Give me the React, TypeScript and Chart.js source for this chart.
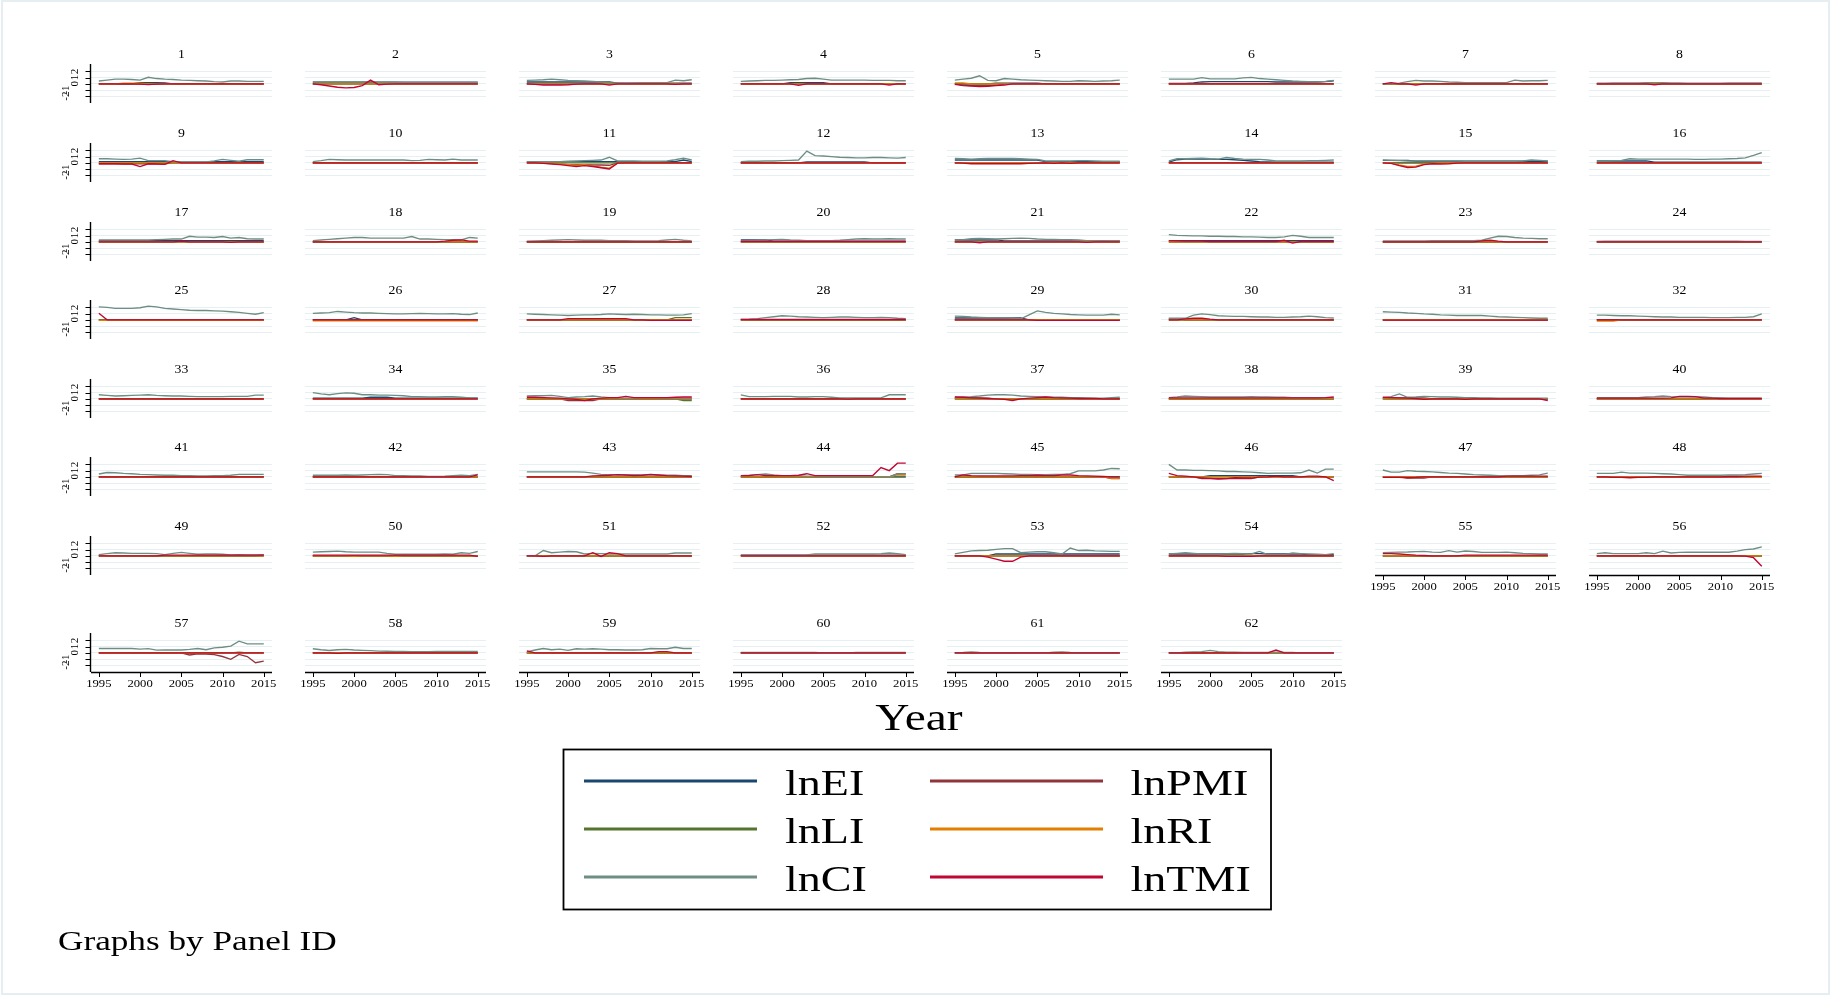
import React, { useEffect, useRef } from "react";
import { Chart, registerables } from "chart.js";
Chart.register(...registerables);

// ---------------- data ----------------
const years = [1995,1996,1997,1998,1999,2000,2001,2002,2003,2004,2005,2006,2007,2008,2009,2010,2011,2012,2013,2014,2015];
const xTickYears = [1995, 2000, 2005, 2010, 2015];
const yTickValues = [-2, -1, 0, 1, 2];
const seriesNames = ["lnEI", "lnPMI", "lnLI", "lnRI", "lnCI", "lnTMI"];
const seriesColors = ["#1a476f", "#90353b", "#55752f", "#e37e00", "#6e8e84", "#c10534"];
const panelIds = Array.from({ length: 62 }, (_, i) => String(i + 1));

const FLAT = [0,0,0,0,0,0,0,0,0,0,0,0,0,0,0,0,0,0,0,0,0];

const lnEI: number[][] = [
  [0,0,0,0,0,0.2,0.2,0.2,0.15,0,0,0,0,0,0,0,0,0,0,0,0], // 1
  [0.27,0.27,0.27,0.27,0.27,0.27,0.27,0.27,0.27,0.27,0.27,0.27,0.27,0.27,0.27,0.27,0.27,0.27,0.27,0.27,0.27], // 2
  [0.3,0.3,0.3,0.3,0.3,0.3,0.3,0.3,0.3,0.3,0.3,0.1,0.1,0.1,0.1,0.1,0.1,0.1,0.1,0.1,0.1], // 3
  [0,0,0,0,0,0,0.2,0.2,0.2,0.2,0.2,0,0,0,0,0,0,0,0,0,0], // 4
  [0,0,0,0,0,0.1,0.1,0.1,0.1,0.1,0.1,0,0,0,0,0,0,0,0,0,0], // 5
  [0.05,0.05,0.05,0.15,0.3,0.35,0.35,0.35,0.35,0.35,0.35,0.35,0.35,0.3,0.3,0.3,0.3,0.3,0.3,0.35,0.5], // 6
  FLAT, // 7
  FLAT, // 8
  [0.2,0.2,0.2,0.2,0.2,0.2,0.2,0.2,0.2,0.1,0.1,0.1,0.1,0.1,0.2,0.2,0.2,0.2,0.2,0.2,0.2], // 9
  FLAT, // 10
  [0.2,0.2,0.2,0.2,0.2,0.2,0.2,0.2,0.2,0.2,0.2,0.2,0.2,0.2,0.2,0.2,0.2,0.2,0.2,0.45,0.2], // 11
  [0,0,0,0,0,0,0,0,0.15,0.15,0.15,0.15,0.15,0.15,0.15,0.15,0,0,0,0,0], // 12
  [0.45,0.45,0.45,0.45,0.45,0.45,0.45,0.45,0.45,0.45,0.45,0.2,0.2,0.2,0.2,0.2,0.2,0.2,0.2,0.2,0.2], // 13
  [0.1,0.5,0.6,0.6,0.65,0.6,0.55,0.55,0.5,0.4,0.3,0.2,0.15,0.1,0.1,0.1,0.1,0.1,0.1,0.1,0.1], // 14
  [0.4,0.4,0.4,0.4,0.25,0.25,0.25,0.25,0.25,0.25,0.25,0.25,0.25,0.25,0.25,0.25,0.25,0.25,0.25,0.25,0.25], // 15
  [0.3,0.3,0.3,0.3,0.3,0.3,0.3,0.1,0.1,0.1,0.1,0.1,0.1,0.1,0.1,0.1,0.1,0.1,0.1,0.1,0.1], // 16
  [0.2,0.2,0.2,0.2,0.2,0.2,0.2,0.2,0.2,0.2,0.2,0.2,0.2,0.2,0.2,0.2,0.2,0.2,0.2,0.2,0.2], // 17
  FLAT, // 18
  FLAT, // 19
  [0.3,0.3,0.3,0.3,0.1,0.1,0.1,0.1,0.1,0.1,0.1,0.1,0.1,0.1,0.1,0.1,0.1,0.1,0.1,0.1,0.1], // 20
  [0.3,0.3,0.3,0.3,0.3,0.3,0.15,0.15,0.15,0.15,0.15,0.15,0.15,0.15,0.15,0.15,0.15,0.15,0.15,0.15,0.15], // 21
  [0.2,0.2,0.2,0.2,0.2,0.2,0.2,0.2,0.2,0.2,0.2,0.2,0.2,0.2,0.2,0.2,0.2,0.2,0.2,0.2,0.2], // 22
  FLAT, // 23
  FLAT, // 24
  FLAT, // 25
  [0,0,0,0,0,0.35,0,0,0,0,0,0,0,0,0,0,0,0,0,0,0], // 26
  FLAT, // 27
  FLAT, // 28
  [0.3,0.3,0.3,0.3,0.3,0.3,0.3,0.3,0.3,0,0,0,0,0,0,0,0,0,0,0,0], // 29
  [0.2,0.2,0,0,0,0,0,0,0,0,0,0,0,0,0,0,0,0,0,0,0], // 30
  FLAT, // 31
  FLAT, // 32
  FLAT, // 33
  [0.1,0.1,0.1,0.1,0.1,0.1,0.1,0.25,0.25,0.25,0.1,0.1,0.1,0.1,0.1,0.1,0.1,0.1,0.1,0.1,0.1], // 34
  FLAT, // 35
  FLAT, // 36
  FLAT, // 37
  FLAT, // 38
  FLAT, // 39
  FLAT, // 40
  FLAT, // 41
  FLAT, // 42
  FLAT, // 43
  FLAT, // 44
  FLAT, // 45
  [0,0,0,0,0,0.2,0.2,0.2,0.2,0.2,0.2,0.2,0.2,0.2,0.2,0.2,0,0,0,0,0], // 46
  FLAT, // 47
  FLAT, // 48
  [0.15,0,0,0,0,0,0,0,0,0,0,0,0,0,0,0,0,0,0,0,0.15], // 49
  FLAT, // 50
  FLAT, // 51
  [0.1,0.1,0.1,0.1,0.1,0.1,0.1,0.1,0.1,0.1,0.1,0.1,0.1,0.1,0.1,0.1,0.1,0.1,0.1,0.1,0.1], // 52
  [0,0,0,0,0,0.3,0.3,0.3,0.3,0.3,0.3,0.3,0.3,0.3,0.3,0.3,0.3,0.3,0.3,0.3,0.3], // 53
  [0.3,0.3,0.3,0.3,0.3,0.3,0.3,0.3,0.3,0.3,0.35,0.35,0.3,0.3,0.3,0.3,0.3,0.2,0.2,0.2,0.2], // 54
  FLAT, // 55
  FLAT, // 56
  FLAT, // 57
  FLAT, // 58
  FLAT, // 59
  FLAT, // 60
  FLAT, // 61
  FLAT, // 62
];

const lnPMI: number[][] = [
  FLAT, FLAT, FLAT, FLAT, // 1-4
  [0,-0.2,-0.3,-0.3,-0.3,-0.2,0,0,0,0,0,0,0,0,0,0,0,0,0,0,0], // 5
  FLAT, FLAT, FLAT, // 6-8
  [-0.15,-0.15,-0.15,-0.15,-0.15,-0.15,-0.15,-0.15,-0.15,0,0,0,0,0,0,0,0,0,0,0,0], // 9
  FLAT, // 10
  [0,0,0,-0.1,-0.2,-0.3,-0.3,-0.3,-0.35,-0.35,-0.4,0,0,0,0,0,0,0,0,0,0], // 11
  FLAT, FLAT, FLAT, FLAT, FLAT, FLAT, FLAT, FLAT, FLAT, FLAT, FLAT, FLAT, FLAT, FLAT, FLAT, FLAT, FLAT, FLAT, FLAT, FLAT, FLAT, FLAT, FLAT, // 12-34
  [0,0,0,0,0,-0.3,-0.3,-0.3,-0.3,0,0,0,0,0,0,0,0,0,0,0,0], // 35
  FLAT, // 36
  [0.2,0.2,0.2,0.15,0.1,0,0,0,0,0,0,0,0,0,0,0,0,0,0,0,0], // 37
  FLAT, // 38
  [0.15,0.15,0.15,0.15,0.15,0.15,0,0,0,0,0,0,0,0,0,0,0,0,0,0,0], // 39
  FLAT, FLAT, FLAT, FLAT, // 40-43
  [0,0,0,0,0,0,0,0,0,0,0,0,0,0,0,0,0,0,0,0.5,0.5], // 44
  [0,0,0,0,0,0,0,0,0,0,0,0,0,0,0,0,0,0,0,-0.3,-0.3], // 45
  [0,0,0,0,-0.3,-0.3,-0.3,-0.3,-0.3,-0.3,-0.3,0,0,0,0,0,0,0,0,0,0], // 46
  [0,0,0,-0.2,-0.2,-0.2,0,0,0,0,0,0,0,0,0,0,0,0,0,0,0], // 47
  FLAT, FLAT, FLAT, FLAT, FLAT, FLAT, FLAT, // 48-54
  [0,0,0,0,-0.1,-0.1,-0.1,0,0,0,0,0,0,0,0,0,0,0,0,0,0], // 55
  FLAT, // 56
  [0,0,0,0,0,0,0,0,0,0,0,-0.35,-0.15,-0.2,-0.3,-0.6,-1.05,-0.25,-0.6,-1.6,-1.35], // 57
  FLAT, FLAT, FLAT, // 58-60
  [0,0,0,0,0,0,-0.1,-0.1,0,0,0,0,0,0,0,0,0,0,0,0,0], // 61
  [0,0,-0.1,-0.1,-0.1,0,0,0,0,0,0,0,0,0,0,0,0,0,0,0,0], // 62
];

const lnLI: number[][] = [
  FLAT, FLAT, FLAT, FLAT, FLAT, FLAT, FLAT, FLAT, FLAT, FLAT, // 1-10
  FLAT, FLAT, FLAT, FLAT, FLAT, FLAT, FLAT, FLAT, FLAT, FLAT, // 11-20
  FLAT, FLAT, FLAT, FLAT, FLAT, FLAT, // 21-26
  [0,0,0,0,0,0,0,0,0,0,0,0,0,0,0,0,0,0,0.35,0.35,0.35], // 27
  FLAT, FLAT, FLAT, FLAT, FLAT, FLAT, FLAT, // 28-34
  [0,0,0,0,0,0,0,0,0,0,0,0,0,0,0,0,0,0,0,-0.3,-0.3], // 35
  FLAT, FLAT, FLAT, FLAT, FLAT, FLAT, FLAT, FLAT, // 36-43
  [0,0,0,0,0,0,0,0,0,0,-0.05,-0.05,-0.05,-0.05,-0.05,-0.05,-0.05,-0.05,0,0,0], // 44
  FLAT, FLAT, FLAT, FLAT, FLAT, FLAT, FLAT, FLAT, FLAT, FLAT, FLAT, FLAT, // 45-56
  [0,0,0,0,0,0,0,0,0,0,0,0,0,0,0,0,0,0.1,0,0,0], // 57
  FLAT, FLAT, FLAT, FLAT, FLAT, // 58-62
];

const lnRI: number[][] = [
  [0,0,0,0.1,0.1,0.1,0,0,0,0,0,0,0,0,0,0,0,0,0,0,0], // 1
  FLAT, FLAT, FLAT, // 2-4
  [0.15,0.15,0,0,0,0,0,0,0,0,0,0,0,0,0,0,0,0,0,0,0], // 5
  FLAT, FLAT, FLAT, FLAT, FLAT, // 6-10
  [0,0,0,-0.1,-0.2,-0.3,-0.4,-0.3,-0.5,-0.7,-0.85,-0.05,0,0,0,0,0,0,0,0,0], // 11
  FLAT, FLAT, FLAT, // 12-14
  [0,-0.05,-0.35,-0.6,-0.55,-0.2,-0.1,0,0,0,0,0,0,0,0,0,0,0,0,0,0], // 15
  FLAT, FLAT, FLAT, FLAT, FLAT, FLAT, FLAT, FLAT, FLAT, // 16-24
  [-0.1,-0.1,-0.1,-0.1,-0.1,-0.1,-0.1,-0.1,-0.1,-0.1,-0.1,-0.1,-0.1,-0.1,-0.1,-0.1,-0.1,-0.1,-0.1,-0.1,-0.1], // 25
  [-0.15,-0.15,-0.15,-0.15,-0.15,-0.15,-0.15,-0.15,-0.15,-0.15,-0.15,-0.15,-0.15,-0.15,-0.15,-0.15,-0.15,-0.15,-0.15,-0.15,-0.15], // 26
  FLAT, FLAT, FLAT, FLAT, FLAT, // 27-31
  [-0.2,-0.2,-0.2,0,0,0,0,0,0,0,0,0,0,0,0,0,0,0,0,0,0], // 32
  FLAT, FLAT, FLAT, FLAT, FLAT, FLAT, FLAT, FLAT, FLAT, FLAT, FLAT, // 33-43
  [0,0,0,0,0,0,0,0,0,0,0,0,0,0,0,0,0,0,0,0.3,0.3], // 44
  [0,0,0,0,0,0,0,0,0,0,0,0,0,0,0,0,0,0,0,-0.25,-0.25], // 45
  FLAT, FLAT, // 46-47
  [0,0,0,0,0,0,0,0,0,0,0,0,0,0,0,0,0,0,0,-0.1,-0.1], // 48
  FLAT, // 49
  [0,0,0,0,0,-0.1,0,0,0,0,-0.1,0,0,0,0,0,0,0,0,0,0], // 50
  FLAT, FLAT, FLAT, FLAT, FLAT, FLAT, FLAT, FLAT, FLAT, FLAT, FLAT, FLAT, // 51-62
];

const lnCI: number[][] = [
  [0.45,0.6,0.75,0.75,0.7,0.6,1.05,0.85,0.75,0.7,0.6,0.55,0.5,0.45,0.35,0.3,0.45,0.45,0.4,0.4,0.4], // 1
  [0.3,0.3,0.3,0.3,0.3,0.3,0.3,0.35,0.25,0.25,0.25,0.2,0.2,0.2,0.2,0.2,0.2,0.2,0.2,0.2,0.2], // 2
  [0.55,0.6,0.65,0.75,0.65,0.55,0.5,0.45,0.4,0.3,0.2,0.15,0.1,0.15,0.2,0.2,0.2,0.2,0.6,0.5,0.65], // 3
  [0.4,0.45,0.5,0.55,0.55,0.6,0.65,0.7,0.85,0.9,0.75,0.6,0.6,0.6,0.6,0.6,0.55,0.55,0.55,0.5,0.5], // 4
  [0.6,0.75,0.9,1.3,0.55,0.5,0.85,0.75,0.65,0.6,0.55,0.5,0.45,0.4,0.4,0.5,0.45,0.4,0.45,0.5,0.6], // 5
  [0.75,0.75,0.75,0.75,1.0,0.8,0.8,0.8,0.8,0.95,1.05,0.85,0.75,0.65,0.55,0.45,0.4,0.35,0.3,0.4,0.55], // 6
  [0,0.05,0.1,0.35,0.55,0.45,0.45,0.4,0.3,0.25,0.2,0.2,0.2,0.2,0.2,0.2,0.6,0.45,0.5,0.5,0.55], // 7
  [0.1,0.1,0.15,0.15,0.15,0.15,0.2,0.2,0.2,0.15,0.15,0.1,0.1,0.1,0.1,0.1,0.15,0.15,0.15,0.15,0.15], // 8
  [0.65,0.65,0.6,0.55,0.6,0.75,0.35,0.35,0.35,0.2,0.15,0.15,0.15,0.15,0.3,0.55,0.4,0.25,0.5,0.5,0.5], // 9
  [0.2,0.35,0.55,0.5,0.45,0.45,0.45,0.45,0.45,0.45,0.45,0.45,0.35,0.4,0.55,0.5,0.45,0.6,0.45,0.45,0.45], // 10
  [0.2,0.2,0.2,0.2,0.2,0.25,0.3,0.35,0.4,0.45,0.9,0.3,0.3,0.3,0.25,0.25,0.25,0.3,0.5,0.75,0.45], // 11
  [0.2,0.25,0.25,0.3,0.3,0.35,0.4,0.45,1.9,1.15,1.1,1.0,0.9,0.85,0.8,0.8,0.85,0.85,0.8,0.75,0.85], // 12
  [0.7,0.65,0.6,0.65,0.7,0.7,0.7,0.7,0.65,0.6,0.55,0.3,0.3,0.3,0.3,0.35,0.35,0.3,0.25,0.25,0.25], // 13
  [0.3,0.65,0.65,0.7,0.75,0.65,0.6,0.85,0.7,0.6,0.55,0.55,0.45,0.3,0.3,0.3,0.3,0.35,0.35,0.4,0.45], // 14
  [0.45,0.4,0.35,0.3,0.3,0.3,0.3,0.3,0.3,0.3,0.25,0.25,0.25,0.25,0.25,0.25,0.25,0.3,0.45,0.4,0.3], // 15
  [0.3,0.3,0.35,0.4,0.65,0.6,0.6,0.6,0.6,0.6,0.6,0.6,0.55,0.55,0.6,0.6,0.65,0.7,0.8,1.2,1.65], // 16
  [0.3,0.3,0.3,0.3,0.3,0.3,0.3,0.35,0.4,0.45,0.45,0.9,0.75,0.75,0.7,0.85,0.6,0.7,0.5,0.45,0.45], // 17
  [0.2,0.3,0.4,0.5,0.6,0.7,0.7,0.6,0.6,0.6,0.6,0.6,0.85,0.45,0.45,0.4,0.35,0.35,0.3,0.7,0.6], // 18
  [0.1,0.15,0.2,0.25,0.3,0.35,0.3,0.25,0.25,0.25,0.2,0.2,0.2,0.15,0.15,0.15,0.2,0.3,0.4,0.25,0.15], // 19
  [0.15,0.2,0.25,0.3,0.35,0.4,0.3,0.25,0.2,0.2,0.2,0.2,0.25,0.35,0.45,0.5,0.45,0.45,0.5,0.45,0.45], // 20
  [0.3,0.35,0.5,0.55,0.5,0.45,0.5,0.55,0.6,0.55,0.45,0.4,0.4,0.35,0.35,0.3,0.2,0.2,0.15,0.2,0.2], // 21
  [1.15,1.05,1.0,0.95,0.95,0.9,0.9,0.85,0.85,0.8,0.8,0.75,0.7,0.7,0.8,1.05,0.9,0.7,0.7,0.7,0.7], // 22
  [0.15,0.15,0.15,0.15,0.15,0.15,0.2,0.2,0.2,0.2,0.2,0.2,0.25,0.6,0.9,0.85,0.7,0.6,0.55,0.5,0.5], // 23
  [0.05,0.1,0.1,0.1,0.1,0.1,0.1,0.1,0.1,0.1,0.1,0.1,0.1,0.1,0.1,0.1,0.1,0.1,0.05,0.05,0.05], // 24
  [2.1,2.0,1.85,1.85,1.85,1.95,2.2,2.1,1.85,1.75,1.65,1.55,1.5,1.5,1.45,1.4,1.3,1.2,1.05,0.9,1.15], // 25
  [1.05,1.1,1.15,1.35,1.25,1.15,1.1,1.1,1.05,1.0,0.95,0.95,1.0,1.05,1.0,0.95,0.95,1.0,0.9,0.85,1.1], // 26
  [0.95,0.9,0.85,0.8,0.75,0.7,0.75,0.8,0.8,0.85,0.95,0.9,0.85,0.9,0.85,0.8,0.8,0.75,0.75,0.8,1.0], // 27
  [0.05,0.1,0.2,0.35,0.5,0.65,0.6,0.5,0.45,0.4,0.35,0.4,0.45,0.45,0.4,0.35,0.35,0.4,0.35,0.25,0.2], // 28
  [0.6,0.55,0.45,0.4,0.35,0.35,0.35,0.3,0.15,0.8,1.45,1.2,1.05,0.95,0.85,0.8,0.75,0.75,0.75,0.9,0.8], // 29
  [0.25,0.25,0.25,0.75,0.95,0.85,0.65,0.6,0.55,0.55,0.5,0.45,0.45,0.4,0.4,0.45,0.5,0.6,0.5,0.35,0.3], // 30
  [1.3,1.25,1.2,1.1,1.05,0.95,0.9,0.8,0.75,0.7,0.7,0.7,0.7,0.6,0.5,0.45,0.4,0.35,0.3,0.25,0.25], // 31
  [0.75,0.75,0.7,0.65,0.65,0.6,0.55,0.5,0.45,0.45,0.4,0.4,0.4,0.4,0.35,0.35,0.35,0.4,0.4,0.5,0.95], // 32
  [0.65,0.55,0.45,0.5,0.55,0.6,0.65,0.55,0.5,0.45,0.45,0.4,0.35,0.35,0.35,0.35,0.4,0.4,0.4,0.6,0.6], // 33
  [1.0,0.8,0.65,0.85,0.95,0.9,0.65,0.65,0.6,0.6,0.55,0.5,0.35,0.35,0.3,0.3,0.35,0.35,0.25,0.15,0.1], // 34
  [0.45,0.5,0.5,0.55,0.4,0.2,0.3,0.35,0.45,0.3,0.2,0.15,0.1,0.1,0.2,0.2,0.15,0.1,0.1,0.1,0.1], // 35
  [0.65,0.35,0.35,0.35,0.4,0.4,0.4,0.3,0.3,0.35,0.35,0.25,0.15,0.15,0.15,0.15,0.15,0.15,0.65,0.65,0.65], // 36
  [0.25,0.3,0.35,0.45,0.6,0.65,0.65,0.6,0.45,0.4,0.35,0.3,0.25,0.25,0.2,0.2,0.15,0.1,0.1,0.2,0.25], // 37
  [0.2,0.3,0.45,0.4,0.35,0.3,0.3,0.3,0.3,0.3,0.35,0.3,0.3,0.25,0.25,0.2,0.2,0.2,0.2,0.2,0.2], // 38
  [0.2,0.35,0.8,0.25,0.3,0.4,0.35,0.3,0.3,0.25,0.2,0.2,0.15,0.15,0.1,0.1,0.1,0.1,0.1,0.1,0.1], // 39
  [0.2,0.2,0.2,0.2,0.2,0.2,0.3,0.35,0.45,0.35,0.3,0.3,0.3,0.3,0.2,0.15,0.1,0.1,0.1,0.1,0.1], // 40
  [0.45,0.7,0.65,0.55,0.5,0.4,0.35,0.3,0.25,0.25,0.2,0.2,0.15,0.15,0.2,0.2,0.25,0.4,0.4,0.4,0.4], // 41
  [0.25,0.25,0.25,0.25,0.3,0.25,0.3,0.35,0.4,0.35,0.2,0.2,0.15,0.15,0.05,0.05,0.1,0.2,0.25,0.2,0.4], // 42
  [0.8,0.8,0.8,0.8,0.8,0.8,0.8,0.75,0.6,0.4,0.35,0.3,0.3,0.35,0.3,0.3,0.25,0.25,0.25,0.2,0.2], // 43
  [0.2,0.25,0.35,0.45,0.3,0.2,0.2,0.15,0.1,0.1,0.05,0.05,0,0,0,0,0,0,0,0.45,0.5], // 44
  [0.3,0.3,0.55,0.55,0.55,0.55,0.5,0.45,0.4,0.4,0.35,0.35,0.4,0.4,0.5,0.95,0.95,0.95,1.1,1.35,1.3], // 45
  [2.0,1.1,1.1,1.05,1.05,1.0,0.95,0.85,0.85,0.8,0.75,0.65,0.55,0.6,0.6,0.6,0.65,1.1,0.6,1.25,1.25], // 46
  [1.1,0.75,0.75,1.0,0.9,0.85,0.8,0.7,0.6,0.55,0.45,0.35,0.3,0.25,0.2,0.15,0.2,0.2,0.25,0.3,0.6], // 47
  [0.55,0.55,0.55,0.75,0.6,0.6,0.6,0.55,0.5,0.45,0.35,0.25,0.25,0.25,0.25,0.25,0.3,0.3,0.35,0.45,0.55], // 48
  [0.2,0.35,0.5,0.45,0.4,0.4,0.4,0.35,0.2,0.4,0.55,0.4,0.25,0.3,0.3,0.25,0.15,0.2,0.15,0.15,0.2], // 49
  [0.6,0.65,0.7,0.75,0.65,0.6,0.6,0.6,0.6,0.4,0.25,0.25,0.25,0.25,0.25,0.25,0.3,0.25,0.5,0.4,0.7], // 50
  [0,0,0.85,0.5,0.6,0.7,0.65,0.3,0.4,0.35,0.3,0.3,0.3,0.3,0.3,0.3,0.3,0.3,0.45,0.45,0.45], // 51
  [0.1,0.1,0.1,0.1,0.1,0.1,0.1,0.1,0.15,0.3,0.3,0.3,0.3,0.3,0.3,0.3,0.3,0.35,0.45,0.35,0.2], // 52
  [0.3,0.55,0.8,0.85,0.9,1.05,1.15,1.15,0.5,0.6,0.65,0.65,0.5,0.3,1.25,0.85,0.9,0.8,0.75,0.72,0.72], // 53
  [0.3,0.4,0.5,0.4,0.3,0.3,0.3,0.35,0.4,0.35,0.3,0.7,0.2,0.2,0.2,0.45,0.35,0.3,0.25,0.2,0.35], // 54
  [0.5,0.55,0.6,0.62,0.68,0.72,0.6,0.55,0.83,0.6,0.78,0.7,0.55,0.55,0.55,0.6,0.5,0.4,0.35,0.3,0.3], // 55
  [0.35,0.5,0.35,0.35,0.35,0.35,0.5,0.35,0.75,0.45,0.55,0.57,0.57,0.57,0.57,0.57,0.57,0.75,1.0,1.1,1.43], // 56
  [0.7,0.7,0.7,0.7,0.7,0.6,0.68,0.43,0.45,0.45,0.45,0.55,0.7,0.5,0.8,0.9,1.07,1.88,1.45,1.45,1.45], // 57
  [0.65,0.5,0.38,0.5,0.55,0.45,0.4,0.35,0.27,0.25,0.22,0.22,0.2,0.2,0.2,0.22,0.22,0.22,0.22,0.22,0.22], // 58
  [0.15,0.45,0.7,0.5,0.6,0.4,0.65,0.6,0.65,0.6,0.5,0.5,0.45,0.45,0.5,0.7,0.65,0.65,0.9,0.7,0.7], // 59
  [0.05,0.05,0.05,0.05,0.05,0.05,0.05,0.05,0.05,0.05,0,0,0,0,0.05,0.05,0.05,0.05,0.05,0.05,0.05], // 60
  [0,0.05,0.15,0.05,0,0,0,0,0,0,0,0,0.1,0.15,0.05,0,0,0,0,0,0], // 61
  [0,0,0.1,0.15,0.2,0.4,0.2,0.1,0.1,0.05,0.05,0.05,0.05,0.1,0.05,0.05,0,0,0,0,0], // 62
];

const lnTMI: number[][] = [
  [0,0,0,0,0,-0.05,-0.12,-0.05,0,0,0,0,0,0,0,0,0,0,0,0,0], // 1
  [0,-0.15,-0.35,-0.55,-0.65,-0.6,-0.3,0.6,-0.15,-0.05,0,0,0,0,0,0,0,0,0,0,0], // 2
  [0,-0.1,-0.2,-0.2,-0.2,-0.15,-0.05,0,0,0,-0.2,0,0,0,0,0,0,0,-0.1,0,0], // 3
  [0,0,0,0,0,0,0,-0.25,0,0,0,0,0,0,0,0,0,0,-0.2,0,0], // 4
  [-0.1,-0.3,-0.35,-0.45,-0.4,-0.3,-0.2,0,0,0,0,0,0,0,0,0,0,0,0,0,0], // 5
  FLAT, // 6
  [0,0.2,0,0,-0.2,0,0,0,0,0,0,0,0,0,0,0,0,0,0,0,0], // 7
  [0,0,0,0,0,0,0,-0.15,0,0,0,0,0,0,0,0,0,0,0,0,0], // 8
  [-0.15,-0.15,-0.15,-0.2,-0.2,-0.6,-0.15,-0.2,-0.25,0.35,0,0,0,0,0,0,0,0,0,0,0], // 9
  FLAT, // 10
  [0,0,-0.1,-0.2,-0.3,-0.45,-0.6,-0.45,-0.6,-0.8,-1.0,-0.05,0,0,0,0,0,0,0,0,0], // 11
  FLAT, // 12
  [0,-0.05,-0.15,-0.15,-0.15,-0.15,-0.15,-0.15,-0.15,-0.1,-0.05,0,-0.1,0,-0.1,0,0,0,0,0,0], // 13
  FLAT, // 14
  [0,-0.1,-0.45,-0.75,-0.7,-0.3,-0.15,-0.2,-0.15,-0.05,0,0,0,0,0,0,0,0,0,0,0], // 15
  FLAT, // 16
  [0,0,0,0,0,0,0,0,0,0,0.1,0,0,0,0,0,-0.1,0,0,0,0], // 17
  [0,0,0,0,0,0,0,0,0,0,0,0,0,0,0,0,0.1,0.25,0.3,0.1,0.1], // 18
  FLAT, // 19
  [0.05,0.05,0.05,0.05,0.05,0.05,0.05,0.05,0.05,0.05,0.05,0.05,0.05,0.05,0.05,0.05,0.05,0.05,0.05,0.05,0.05], // 20
  [0,0,0,-0.15,0,0,0,0,0,0,0,0,0,0,0,0,-0.1,0,0,0,0], // 21
  [0.2,0.15,0.1,0.1,0.1,0.05,0.05,0.05,0.05,0.05,0.05,0.05,0.05,0.05,0.25,-0.2,0.05,0.05,0.05,0.05,0.05], // 22
  [0,0,0,0,0,0,0,0,0,0,0,0,0.15,0.25,0.1,0,0,0,0,0,0], // 23
  FLAT, // 24
  [1.05,0,0,0,0,0,0,0,0,0,0,0,0,0,0,0,0,0,0,0,0], // 25
  FLAT, // 26
  [0,0,0,0,0,0.2,0.2,0.2,0.2,0.2,0.2,0.2,0.2,0,0,-0.1,-0.1,-0.1,-0.1,-0.1,-0.1], // 27
  [0.05,0.05,0.05,0.05,0.05,0.05,0.05,0.05,0.05,0.05,0.05,0.05,0.05,0.05,0.05,0.05,0.05,0.05,0.05,0.05,0.05], // 28
  [0,0,0,0,0,0,0,0,0,0,-0.1,-0.1,-0.1,-0.1,-0.1,-0.1,-0.1,-0.1,-0.1,-0.1,-0.1], // 29
  [0,0,0.15,0.25,0.25,0.1,0,0,0,0,0,0,0,0,0,0,0,0,0,0,0], // 30
  [-0.05,-0.05,-0.05,-0.05,-0.05,-0.05,-0.05,-0.05,-0.05,-0.05,-0.05,-0.05,-0.05,-0.05,-0.05,-0.05,-0.05,-0.05,-0.05,-0.05,-0.05], // 31
  FLAT, // 32
  FLAT, // 33
  FLAT, // 34
  [0.25,0.25,0.2,0.15,0.1,0,-0.1,-0.3,0,0.1,0.2,0.2,0.4,0.2,0.2,0.2,0.2,0.2,0.25,0.3,0.3], // 35
  [0,0,0,0,0,0,0,0,0,0,0,0,0,-0.05,0,0,0,0,0,0,0], // 36
  [0.3,0.25,0.15,0.1,0.05,0,-0.1,-0.27,0,0.1,0.2,0.3,0.2,0.15,0.1,0.05,0.05,0.05,0,0,0], // 37
  [0.15,0.15,0.15,0.15,0.15,0.15,0.15,0.15,0.15,0.15,0.15,0.15,0.15,0.15,0.15,0.15,0.15,0.15,0.15,0.2,0.3], // 38
  [0.25,0.2,0.15,0.1,0.05,-0.1,0,0,0,0,-0.1,0,0,0,0,0,0,0,0,0,-0.27], // 39
  [0.1,0.1,0.1,0.1,0.1,0.1,0.1,0.1,0.1,0.15,0.4,0.4,0.35,0.1,0.1,0.05,0.05,0.05,0.05,0.05,0.05], // 40
  FLAT, // 41
  [0,0,0,0,0,0,0,0,0,0,0,0,0,0,0,0,0,0,0,0,0.3], // 42
  [0,0,0,0,0,0,0,0,0.15,0.2,0.25,0.35,0.3,0.2,0.25,0.4,0.3,0.2,0.15,0.1,0.05], // 43
  [0.2,0.2,0.35,0.2,0.2,0.2,0.2,0.25,0.5,0.2,0.2,0.2,0.2,0.2,0.2,0.2,0.2,1.5,1.0,2.2,2.2], // 44
  [0,0.3,0.2,0.15,0.15,0.15,0.15,0.15,0.2,0.2,0.25,0.2,0.2,0.3,0.3,0.2,0.15,0.1,0.05,0,0], // 45
  [0.57,0.2,0.1,0,-0.2,-0.25,-0.35,-0.3,-0.15,-0.2,-0.2,-0.05,0,0.1,0,0,0,0.1,0.1,0,-0.6], // 46
  [-0.1,-0.1,-0.1,-0.15,-0.1,0,0,0,0,0,0,0,0,0,0,0.1,0.1,0.1,0.1,0.1,0.1], // 47
  [0,0,-0.1,-0.1,-0.15,-0.1,-0.1,0,0,0,0,0,0,0,0,0,0.05,0.05,0.1,0.1,0.1], // 48
  [0,0,0,0,0,0,0,0,0.1,0.1,0.1,0.1,0.1,0.1,0.1,0.1,0.1,0.1,0.1,0.1,0.1], // 49
  [0.1,0.1,0.1,0.1,0.1,0.1,0.1,0.1,0.1,0.1,0.1,0.1,0.1,0.1,0.1,0.1,0.1,0.1,0.1,0.1,-0.1], // 50
  [0,0,-0.1,0,0,0,0,0,0.5,-0.1,0.5,0.35,0,0,0,0,0,0,0,0,0], // 51
  FLAT, // 52
  [0,0,0,0,-0.2,-0.55,-0.88,-0.88,-0.2,0,0,0,0,0,0,0,0,0,0,0,0], // 53
  [0,0,0,0,0,0,0,-0.1,-0.1,-0.1,-0.1,0,0,0,0,0,0,0,0,0,0], // 54
  [0.35,0.35,0.3,0.2,0.1,0.05,0,0,0,0,0.1,0.1,0.1,0.1,0.1,0.1,0.1,0.1,0.1,0.1,0.1], // 55
  [0,0,0,0,0,0,0,0,0,0,0,0,0,0,0,0,0,0,-0.05,-0.3,-1.7], // 56
  FLAT, // 57
  [0,0,0,-0.1,0,0,0,0,0,0,0,0,0,0,0,0,0,0,0,0,0], // 58
  [0.3,0,0,0,0,0,0,0,0,0,0,0,0,0,0,0,0.2,0.2,0,0,0], // 59
  FLAT, // 60
  FLAT, // 61
  [0,0,0,0,0,0,0,0,0,0,0,0,0,0.45,0,0,0,0,0,0,0], // 62
];

const seriesTables = [lnEI, lnPMI, lnLI, lnRI, lnCI, lnTMI];

// ---------------- layout ----------------
const COL0 = 91, COLSTEP = 214;
const ROW0 = 64.3, ROWSTEP = 78.6, LAST_ROW_EXTRA = 18.4;
const PW = 181, PH = 39;
const PADL = 40, PADR = 20, PADT = 22, PADB = 28;
const CW = PADL + PW + PADR, CH = PADT + PH + PADB;
const SERIF = '"Liberation Serif", "Times New Roman", "DejaVu Serif", serif';
const STRETCH = 1.28;

function drawText(ctx: CanvasRenderingContext2D, text: string, x: number, y: number, font: string, sx: number, align: CanvasTextAlign, baseline: CanvasTextBaseline, rot = 0) {
  ctx.save();
  ctx.translate(x, y);
  ctx.scale(sx, 1);
  if (rot) ctx.rotate(rot);
  ctx.font = font;
  ctx.textAlign = align;
  ctx.textBaseline = baseline;
  ctx.fillStyle = "#000";
  ctx.fillText(text, 0, 0);
  ctx.restore();
}

const panelDecor = {
  id: "decor",
  afterDraw(chart: any, _args: any, opts: any) {
    const { ctx, chartArea: a } = chart;
    const x = chart.scales.x, y = chart.scales.y;
    ctx.save();
    drawText(ctx, opts.title, (a.left + a.right) / 2, a.top - 9.3, `11.5px ${SERIF}`, 1.2, "center", "middle");
    ctx.strokeStyle = "#000";
    if (opts.showY) {
      ctx.lineWidth = 1.4;
      ctx.beginPath();
      ctx.moveTo(a.left - 0.5, a.top);
      ctx.lineTo(a.left - 0.5, a.bottom);
      ctx.stroke();
      ctx.lineWidth = 1;
      for (const v of yTickValues) {
        const py = Math.round(y.getPixelForValue(v)) + 0.5;
        ctx.beginPath();
        ctx.moveTo(a.left - 5.5, py);
        ctx.lineTo(a.left, py);
        ctx.stroke();
        const cx = v < 0 ? a.left - 25 : a.left - 16;
        drawText(ctx, String(v), cx, y.getPixelForValue(v), `11px ${SERIF}`, 1.0, "center", "middle", -Math.PI / 2);
      }
    }
    if (opts.showX) {
      ctx.lineWidth = 1.4;
      ctx.beginPath();
      ctx.moveTo(a.left, a.bottom + 0.5);
      ctx.lineTo(a.right, a.bottom + 0.5);
      ctx.stroke();
      ctx.lineWidth = 1;
      for (const yr of xTickYears) {
        const px = Math.round(x.getPixelForValue(yr)) + 0.5;
        ctx.beginPath();
        ctx.moveTo(px, a.bottom);
        ctx.lineTo(px, a.bottom + 5);
        ctx.stroke();
        drawText(ctx, String(yr), x.getPixelForValue(yr), a.bottom + 12.5, `11px ${SERIF}`, 1.15, "center", "middle");
      }
    }
    ctx.restore();
  },
};

function Panel({ p }: { p: number }) {
  const ref = useRef<HTMLCanvasElement>(null);
  const r = Math.floor(p / 8), c = p % 8;
  const L = COL0 + COLSTEP * c;
  const T = Math.round(ROW0 + ROWSTEP * r + (r === 7 ? LAST_ROW_EXTRA : 0));
  const showY = c === 0;
  const showX = r === 7 || (r === 6 && c >= 6);
  useEffect(() => {
    const chart = new Chart(ref.current as HTMLCanvasElement, {
      type: "line",
      data: {
        datasets: seriesNames.map((name, k) => ({
          label: name,
          data: years.map((yr, i) => ({ x: yr, y: seriesTables[k][p][i] })),
          borderColor: seriesColors[k],
          backgroundColor: seriesColors[k],
          borderWidth: 1.35,
          pointRadius: 0,
          tension: 0,
          fill: false,
          order: 5 - k,
        })),
      },
      options: {
        animation: false,
        responsive: false,
        maintainAspectRatio: false,
        events: [],
        layout: { padding: { left: PADL, right: PADR, top: PADT, bottom: PADB } },
        plugins: {
          legend: { display: false },
          tooltip: { enabled: false },
          decor: { title: panelIds[p], showY, showX },
        } as any,
        scales: {
          x: { type: "linear", display: false, min: 1994.05, max: 2016 },
          y: {
            type: "linear",
            min: -3.1,
            max: 3.2,
            display: true,
            afterBuildTicks: (s: any) => { s.ticks = yTickValues.map((v) => ({ value: v })); },
            afterFit: (s: any) => { s.width = 0; s.paddingTop = 0; s.paddingBottom = 0; s.paddingLeft = 0; s.paddingRight = 0; },
            grid: { color: "#e6eff1", lineWidth: 1, drawTicks: false },
            border: { display: false },
            ticks: { display: false },
          },
        },
      },
      plugins: [panelDecor],
    } as any);
    return () => chart.destroy();
  }, []);
  return (
    <canvas
      ref={ref}
      width={CW}
      height={CH}
      style={{ position: "absolute", left: L - PADL, top: T - PADT, width: CW, height: CH }}
    />
  );
}

const framePlugin = {
  id: "frame",
  beforeDraw(chart: any) {
    const ctx = chart.ctx;
    ctx.save();
    ctx.fillStyle = "#fff";
    ctx.fillRect(0, 0, chart.width, chart.height);
    ctx.strokeStyle = "#e6eef2";
    ctx.lineWidth = 2;
    ctx.strokeRect(2, 1, chart.width - 4, chart.height - 3);
    ctx.restore();
  },
  afterDraw(chart: any) {
    const ctx = chart.ctx;
    ctx.save();
    // x axis title
    drawText(ctx, "Year", 919, 730, `37px ${SERIF}`, STRETCH, "center", "alphabetic");
    // legend box
    ctx.strokeStyle = "#000";
    ctx.lineWidth = 1.8;
    ctx.strokeRect(563.5, 749.5, 707.5, 160);
    seriesNames.forEach((name, k) => {
      const row = Math.floor(k / 2), col = k % 2;
      const ly = 781 + row * 48;
      const x0 = col === 0 ? 584 : 930;
      ctx.strokeStyle = seriesColors[k];
      ctx.lineWidth = 3;
      ctx.beginPath();
      ctx.moveTo(x0, ly);
      ctx.lineTo(x0 + 173, ly);
      ctx.stroke();
      drawText(ctx, name, col === 0 ? 785 : 1130.5, ly + 14, `36px ${SERIF}`, STRETCH, "left", "alphabetic");
    });
    // note
    drawText(ctx, "Graphs by Panel ID", 58, 950, `27.5px ${SERIF}`, STRETCH, "left", "alphabetic");
    ctx.restore();
  },
};

function Frame() {
  const ref = useRef<HTMLCanvasElement>(null);
  useEffect(() => {
    const chart = new Chart(ref.current as HTMLCanvasElement, {
      type: "line",
      data: { datasets: [] },
      options: {
        animation: false,
        responsive: false,
        events: [],
        plugins: { legend: { display: false }, tooltip: { enabled: false } },
        scales: { x: { display: false }, y: { display: false } },
      },
      plugins: [framePlugin],
    } as any);
    return () => chart.destroy();
  }, []);
  return <canvas ref={ref} width={1831} height={996} style={{ position: "absolute", left: 0, top: 0, width: 1831, height: 996 }} />;
}

export default function App() {
  return (
    <div style={{ position: "absolute", left: 0, top: 0, width: 1831, height: 996, overflow: "hidden", background: "#fff" }}>
      <Frame />
      {panelIds.map((_, p) => (
        <Panel key={p} p={p} />
      ))}
    </div>
  );
}
